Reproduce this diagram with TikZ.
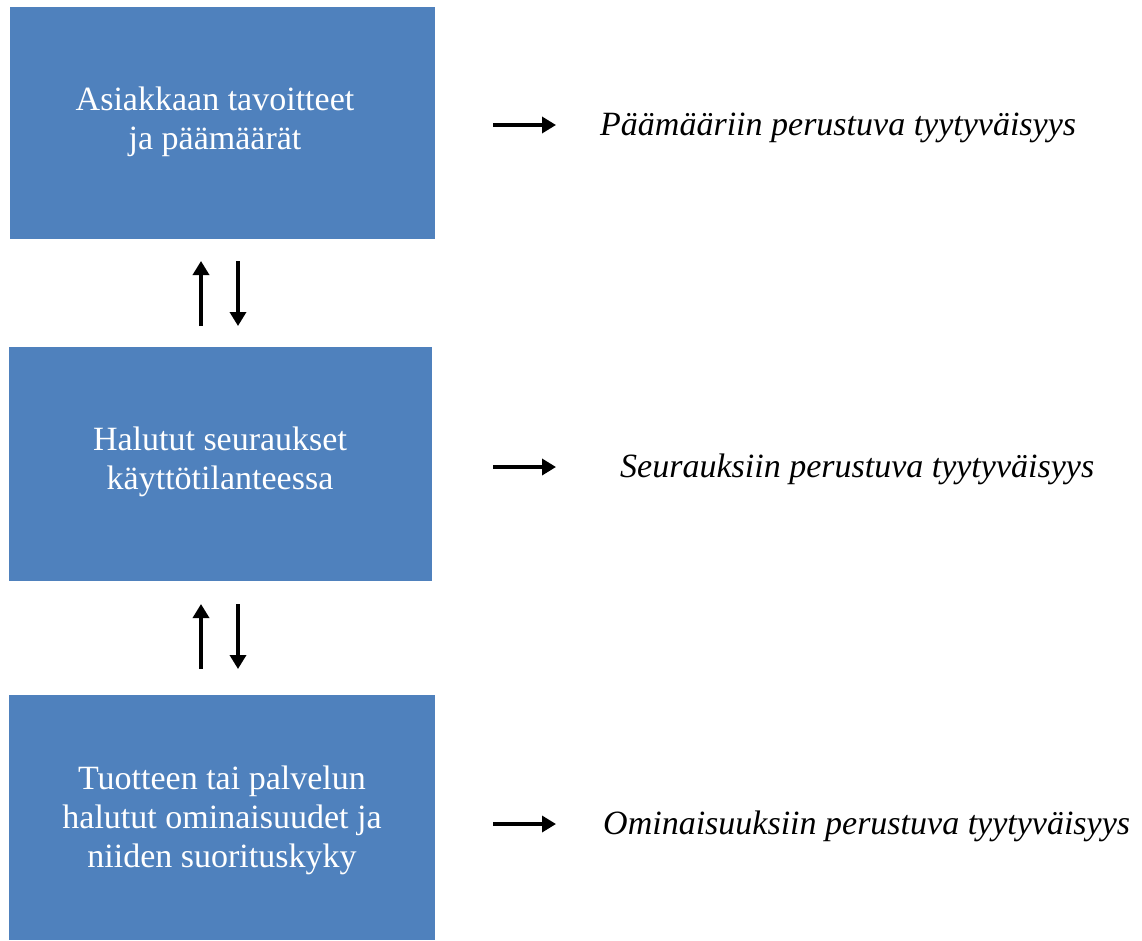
\documentclass[tikz,border=0pt]{standalone}
\usepackage{fontspec}
\setmainfont{Liberation Serif}
\usetikzlibrary{arrows.meta}
\definecolor{boxblue}{HTML}{4F81BD}
\begin{document}
\begin{tikzpicture}[x=1pt,y=-1pt,
  bluebox/.style={draw=none,text=white,align=center,
    font=\fontsize{34}{39}\selectfont,inner sep=0pt},
  lab/.style={anchor=west,font=\fontsize{34}{39}\selectfont\itshape,inner sep=0pt},
  arr/.style={line width=3.4pt,-{Triangle[length=14pt,width=16pt]}}]
\useasboundingbox (0,0) rectangle (1142,940);
\fill[boxblue] (10,7) rectangle (435,239);
\fill[boxblue] (9,347) rectangle (432,581);
\fill[boxblue] (9,695) rectangle (435,940);
\node[bluebox] (b1) at (215,122) {Asiakkaan tavoitteet\\ja päämäärät};
\node[bluebox] (b2) at (220,462) {Halutut seuraukset\\käyttötilanteessa};
\node[bluebox] (b3) at (222,820) {Tuotteen tai palvelun\\halutut ominaisuudet ja\\niiden suorituskyky};
\node[lab] (l1) at (600,128) {Päämääriin perustuva tyytyväisyys};
\node[lab] (l2) at (620,469) {Seurauksiin perustuva tyytyväisyys};
\node[lab] (l3) at (603,826) {Ominaisuuksiin perustuva tyytyväisyys};
\coordinate (r1a) at (493,125); \coordinate (r1b) at (556,125);
\coordinate (r2a) at (493,467); \coordinate (r2b) at (556,467);
\coordinate (r3a) at (493,824); \coordinate (r3b) at (556,824);
\draw[arr] (r1a) -- (r1b);
\draw[arr] (r2a) -- (r2b);
\draw[arr] (r3a) -- (r3b);
\coordinate (u1a) at (201,326); \coordinate (u1b) at (201,261);
\coordinate (d1a) at (238,261); \coordinate (d1b) at (238,326);
\coordinate (u2a) at (201,669); \coordinate (u2b) at (201,604);
\coordinate (d2a) at (238,604); \coordinate (d2b) at (238,669);
\draw[arr] (u1a) -- (u1b);
\draw[arr] (d1a) -- (d1b);
\draw[arr] (u2a) -- (u2b);
\draw[arr] (d2a) -- (d2b);
\end{tikzpicture}
\end{document}
